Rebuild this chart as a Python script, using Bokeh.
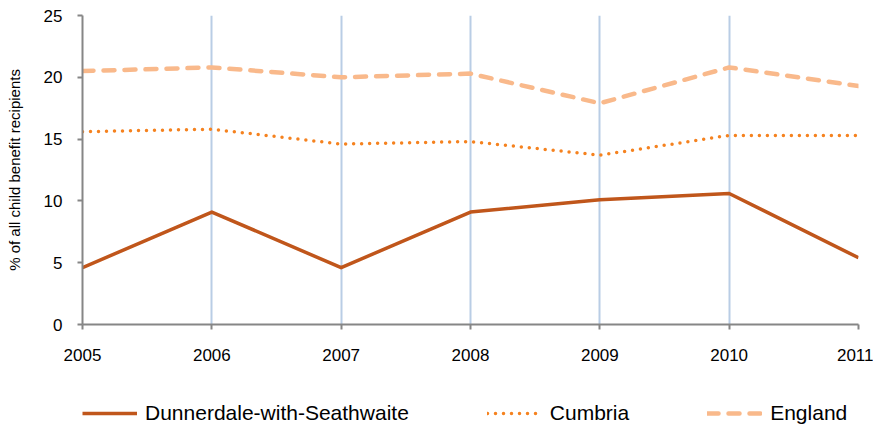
from bokeh.plotting import figure
from bokeh.layouts import column
from bokeh.models import Range1d, FixedTicker, Legend, LegendItem
from bokeh.embed import file_html
from bokeh.resources import INLINE

years = [2005, 2006, 2007, 2008, 2009, 2010, 2011]
dunnerdale = [4.6, 9.1, 4.6, 9.1, 10.1, 10.6, 5.4]
cumbria = [15.6, 15.8, 14.6, 14.8, 13.7, 15.3, 15.3]
england = [20.5, 20.8, 20.0, 20.3, 17.9, 20.8, 19.3]
y_ticks = [0, 5, 10, 15, 20, 25]
series_names = ["Dunnerdale-with-Seathwaite", "Cumbria", "England"]

FONT = "Liberation Sans"
styles = [
    dict(line_color="#C0561B", line_width=3.5, line_join="round"),
    dict(line_color="#F5821F", line_width=3.5, line_dash="0 8", line_cap="round"),
    dict(line_color="#F9B98B", line_width=4.5, line_dash="11 10", line_cap="round"),
]
series = [dunnerdale, cumbria, england]

p = figure(width=873, height=370, output_backend="svg", toolbar_location=None,
           x_range=Range1d(2005, 2011), y_range=Range1d(0, 25),
           min_border_left=82, min_border_right=15, min_border_top=15, min_border_bottom=46)
p.outline_line_color = None

for vals, st in zip(series, styles):
    p.line(years, vals, **st)

for ax in (p.xaxis[0], p.yaxis[0]):
    ax.axis_line_color = "#868686"
    ax.axis_line_width = 2
    ax.major_tick_line_color = "#868686"
    ax.major_tick_line_width = 2
    ax.major_tick_in = 0
    ax.major_tick_out = 5
    ax.minor_tick_line_color = None
    ax.major_label_text_font = FONT
    ax.major_label_text_font_size = "17px"
    ax.major_label_text_color = "#000000"

p.xaxis.ticker = FixedTicker(ticks=years)
p.yaxis.ticker = FixedTicker(ticks=y_ticks)
p.xaxis.major_label_standoff = 19
p.yaxis.major_label_standoff = 15
p.yaxis.axis_label = "% of all child benefit recipients"
p.yaxis.axis_label_text_font = FONT
p.yaxis.axis_label_text_font_style = "normal"
p.yaxis.axis_label_text_font_size = "15px"
p.yaxis.axis_label_text_color = "#000000"
p.yaxis.axis_label_standoff = 18

p.xgrid.grid_line_color = "#B9CDE5"
p.xgrid.grid_line_width = 2
p.xgrid.ticker = FixedTicker(ticks=years)
p.ygrid.grid_line_color = None

# legend strip (series drawn off-range so only the legend shows)
pl = figure(width=873, height=60, output_backend="svg", toolbar_location=None,
            x_range=Range1d(0, 1), y_range=Range1d(0, 1),
            min_border_left=0, min_border_right=0, min_border_top=0, min_border_bottom=0,
            x_axis_location=None, y_axis_location=None)
pl.outline_line_color = None
pl.grid.visible = False
items = []
for name, vals, st in zip(series_names, series, styles):
    r = pl.line(years, vals, **st)
    items.append(LegendItem(label=name, renderers=[r]))

legend = Legend(items=items, orientation="horizontal", location=(0, 5), spacing=78,
                glyph_width=55, label_standoff=8, border_line_color=None,
                background_fill_alpha=0, label_text_font=FONT,
                label_text_font_size="21px", label_text_color="#000000",
                padding=0, margin=0)
pl.add_layout(legend, "center")

layout = column(p, pl, spacing=0)
open("out.html", "w").write(file_html(layout, INLINE))
